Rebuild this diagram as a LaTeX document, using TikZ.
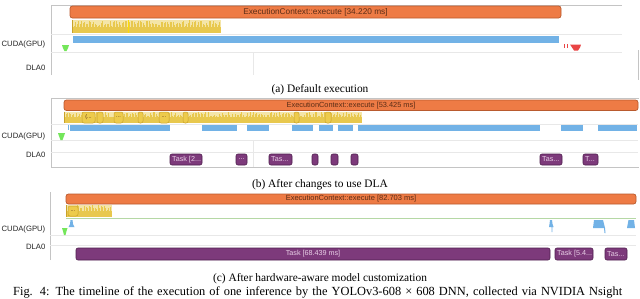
\documentclass[tikz,border=0pt]{standalone}
\usepackage{fontspec}
\setmainfont{Liberation Serif}
\setsansfont{Liberation Sans}
\definecolor{orangeC}{HTML}{EE7B45}
\definecolor{orangeD}{HTML}{B95A2E}
\definecolor{orangeT}{HTML}{5C2E17}
\definecolor{blueC}{HTML}{72B2E6}
\definecolor{greenC}{HTML}{74E65A}
\definecolor{redC}{HTML}{E94545}
\definecolor{purpC}{HTML}{7D3A7B}
\definecolor{purpD}{HTML}{4F1F4E}
\definecolor{purpT}{HTML}{E8CFE6}
\definecolor{yelD}{HTML}{E8C84E}
\definecolor{yelL}{HTML}{F4E5A8}
\definecolor{yelB}{HTML}{EDCB4C}
\definecolor{yelBD}{HTML}{C9A22A}
\definecolor{gridC}{HTML}{E8E8E8}
\definecolor{frameC}{HTML}{C4C4C4}
\definecolor{greenLine}{HTML}{B5D8A5}
\newcommand{\yband}[4]{%
  \fill[yelL] (#1,#3) rectangle (#2,#4);
  \pgfmathsetmacro\ymid{#3+0.5*(#4-#3)}
  \fill[yelD] (#1,\ymid) rectangle (#2,#4);
  \pgfmathtruncatemacro\nn{(#2-#1)/1.5-1}
  \foreach \i in {0,...,\nn} {
    \pgfmathsetmacro\xa{#1+\i*1.5}
    \pgfmathsetmacro\yt{#3+0.3+rnd*0.45*(#4-#3)}
    \fill[yelD] (\xa,\yt) rectangle (\xa+1,\ymid+0.2);
  }
  \draw[yelBD,line width=0.8pt] (#1+0.4,#3) -- (#1+0.4,#4);
}
\begin{document}
\begin{tikzpicture}[x=1pt,y=-1pt,
  frameln/.style={draw=frameC,line width=0.7pt},
  gridl/.style={draw=gridC,line width=0.7pt},
  obar/.style={draw=orangeD,fill=orangeC,rounded corners=2.5pt,line width=0.7pt},
  otext/.style={text=orangeT,inner sep=0pt},
  taskbox/.style={draw=purpD,fill=purpC,rounded corners=2pt,line width=0.6pt},
  ttext/.style={text=purpT,inner sep=0pt,font=\sffamily\fontsize{7.2}{8}\selectfont},
  ybox/.style={draw=yelBD,fill=yelB,rounded corners=2pt,line width=0.5pt},
  lbl/.style={anchor=east,inner sep=0pt,font=\sffamily\fontsize{7.7}{9}\selectfont,text=black!85},
  captext/.style={anchor=base,inner sep=0pt,font=\fontsize{11.4}{13}\selectfont},
]
\pgfmathsetseed{11}
\clip (0,0) rectangle (640,298);
\fill[white] (0,0) rectangle (640,298);

% ---------------- panel (a)
\draw[frameln] (51,75) -- (51,5) -- (622,5);
\draw[gridl] (51,34.5) -- (622,34.5);
\draw[gridl] (51,52.5) -- (622,52.5);
\draw[gridl] (253,52.5) -- (253,75);
\draw[frameln] (638.5,50) -- (638.5,80);
\yband{72}{221}{20}{33}
\draw[yellow!80!orange,line width=1pt] (128,20) -- (128,33);
\draw[obar] (70,6) rectangle (561,18);
\node[otext,font=\sffamily\fontsize{8.3}{9}\selectfont] (ta) at (315.5,12) {ExecutionContext::execute [34.220 ms]};
\fill[blueC] (73,36) rectangle (559,43);
\fill[greenC] (62,45) -- (69,45) -- (68,48) -- (66.5,51) -- (64.5,51) -- (63,48) -- cycle;
\fill[redC] (570,44.5) -- (581,44.5) -- (580,47.5) -- (578,50.5) -- (574,50.5) -- (572,47.5) -- cycle;
\fill[redC] (563.5,44) rectangle (564.3,48);
\fill[redC] (566.5,44) rectangle (567.3,48);
\node[lbl] (cudaa) at (45.5,45) {CUDA(GPU)};
\node[lbl] (dlaa) at (45.5,68) {DLA0};
\node[captext] (capa) at (320,92) {(a) Default execution};

% ---------------- panel (b)
\draw[frameln] (51,167) -- (51,98.5) -- (638.5,98.5);
\draw[frameln] (51,167) -- (638.5,167);
\draw[gridl] (51,124) -- (638,124);
\draw[gridl] (51,140) -- (638,140);
\draw[gridl] (51,152) -- (638,152);
\draw[gridl] (253,140) -- (253,167);
\yband{64}{362}{111.5}{123}
\foreach \a/\b in {97/103,138/143,183/188,294/299,325/331} {
  \draw[ybox] (\a,112) rectangle (\b,123);
}
\foreach \a/\b/\t [count=\k] in {82/95/{(...},114/123/{...},159/169/{...}} {
  \draw[ybox] (\a,112) rectangle (\b,123);
  \node[inner sep=0pt,text=orangeT,font=\sffamily\fontsize{5.5}{6}\selectfont] (yb\k) at ({(\a+\b)/2},117.5) {\t};
}
\draw[obar] (64,100) rectangle (638,110.5);
\node[otext,font=\sffamily\fontsize{7.4}{8}\selectfont] (tb) at (351,105.3) {ExecutionContext::execute [53.425 ms]};
\foreach \a/\b in {70/170,202/237,247/269,292/313,319/333,338/353,358/540,561/583,598/637} {
  \fill[blueC] (\a,125) rectangle (\b,131);
}
\fill[blueC] (67.5,125) rectangle (68.5,130);
\fill[greenC] (58,133) -- (65,133) -- (64,136) -- (62.5,140) -- (60.5,140) -- (59,136) -- cycle;
\foreach \a/\b in {170/202,236/247,269/292,312/318,331/338,351/358,540/562,583/598} {
  \draw[taskbox] (\a,154) rectangle (\b,165);
}
\node[ttext,anchor=west] (tk1) at (172,159.5) {Task [2...};
\node[ttext] (tk2) at (241.5,159.5) {...};
\node[ttext,anchor=west] (tk3) at (271,159.5) {Tas...};
\node[ttext,anchor=west] (tk4) at (542,159.5) {Tas...};
\node[ttext,anchor=west] (tk5) at (585,159.5) {T...};
\node[lbl] (cudab) at (45.5,137) {CUDA(GPU)};
\node[lbl] (dlab) at (45.5,155) {DLA0};
\node[captext] (capb) at (320,187) {(b) After changes to use DLA};

% ---------------- panel (c)
\draw[frameln] (50,260) -- (50,192);
\draw[draw=greenLine,line width=0.7pt] (66,218) -- (636,218);
\draw[gridl] (50,235) -- (636,235);
\draw[gridl] (50,245.5) -- (636,245.5);
\yband{66}{112}{205}{217}
\draw[ybox] (68,206) rectangle (78,216);
\node[inner sep=0pt,text=orangeT,font=\sffamily\fontsize{5.5}{6}\selectfont] (ycb) at (73,211) {...};
\draw[obar] (66,194) rectangle (636,204);
\node[otext,font=\sffamily\fontsize{7.5}{8}\selectfont] (tc) at (351,199) {ExecutionContext::execute [82.703 ms]};
\fill[blueC] (70.5,220) -- (72.5,220) -- (73,224) -- (74.5,227) -- (68.5,227) -- (70,224) -- cycle;
\fill[blueC] (550,220) -- (552,220) -- (552.5,224) -- (553.5,227) -- (552.5,227) -- (552.3,232) -- (551.7,232) -- (551.5,227) -- (549,227) -- (549.5,224) -- cycle;
\fill[blueC] (594,220) -- (603,220) -- (604,224) -- (605,228) -- (605.5,233) -- (604.5,233) -- (604,228) -- (593,228) -- (593.5,224) -- cycle;
\fill[blueC] (628.5,220) -- (634,220) -- (635,228) -- (627,228) -- cycle;
\fill[greenC] (62,228) -- (67.5,228) -- (66.5,231) -- (65.5,235) -- (64,235) -- (63,231) -- cycle;
\draw[taskbox] (76,248) rectangle (550,260);
\draw[taskbox] (555,248) rectangle (593,260);
\draw[taskbox] (605,248) rectangle (627,260);
\node[ttext] (tc1) at (313,254) {Task [68.439 ms]};
\node[ttext,anchor=west] (tc2) at (557,254) {Task [5.4...};
\node[ttext,anchor=west] (tc3) at (607,254) {Tas...};
\node[lbl] (cudac) at (45.5,230) {CUDA(GPU)};
\node[lbl] (dlac) at (45.5,247) {DLA0};
\node[captext] (capc) at (320,281) {(c) After hardware-aware model customization};

% ---------------- figure caption (cut off at the lower edge, as in the reference)
\node[captext,anchor=base west,font=\fontsize{12.4}{14}\selectfont] (fig) at (13,295.5) {\makebox[609pt][s]{Fig. 4: The timeline of the execution of one inference by the YOLOv3-608 × 608 DNN, collected via NVIDIA Nsight}};
\end{tikzpicture}
\end{document}
